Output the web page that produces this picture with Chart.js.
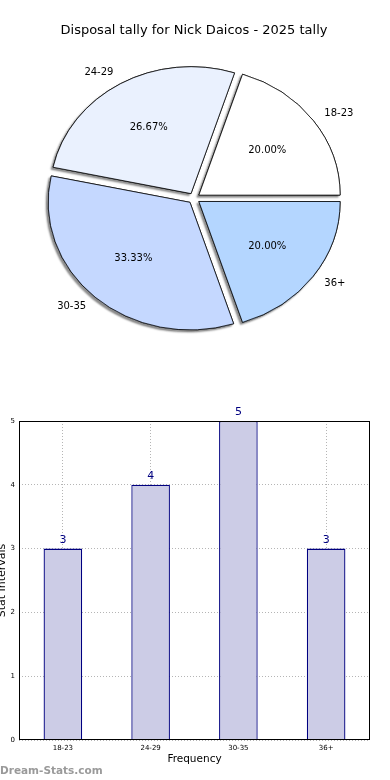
<!DOCTYPE html>
<html>
<head>
<meta charset="utf-8">
<script src="https://cdn.jsdelivr.net/npm/chart.js@4.4.1/dist/chart.umd.min.js"></script>
<style>
  html, body { margin: 0; padding: 0; background: #fff; }
  body { width: 390px; height: 780px; position: relative; overflow: hidden; font-family: 'DejaVu Sans', sans-serif; }
  #pieChart { position: absolute; left: 0; top: 0; }
  #barChart { position: absolute; left: 0; top: 380px; }
  .watermark { position: absolute; left: 0; top: 764px; font: bold 10.5px 'DejaVu Sans', sans-serif; color: #9a9a9a; }
</style>
</head>
<body>
<canvas id="pieChart" width="390" height="380"></canvas>
<canvas id="barChart" width="390" height="400"></canvas>
<div class="watermark">Dream-Stats.com</div>
<script>
// data
const categories = ['18-23', '24-29', '30-35', '36+'];
const tallies = [3, 4, 5, 3];
const yTicks = [0, 1, 2, 3, 4, 5];

const sliceColors = ['#ffffff', '#eaf1fe', '#c5d8ff', '#b4d6ff'];
const explode = 6;      // px
const ySquash = 0.9;    // the pie is drawn slightly flattened

const total = tallies.reduce((a, b) => a + b, 0);

// Chart.js runs clockwise, the original runs counter-clockwise from 3 o'clock
const pieLabels = categories.slice().reverse();
const pieValues = tallies.slice().reverse();
const pieColors = sliceColors.slice().reverse();

const pieDecor = {
    id: 'pieDecor',
    beforeDatasetsDraw(chart) {
        const ctx = chart.ctx;
        const arcs = chart.getDatasetMeta(0).data;
        const cx = arcs[0].x, cy = arcs[0].y;
        ctx.save();
        ctx.translate(cx, cy);
        ctx.scale(1, ySquash);
        ctx.translate(-cx, -cy);
        // shadow pass
        ctx.save();
        ctx.shadowColor = 'rgba(0,0,0,0.45)';
        ctx.shadowOffsetX = -2;
        ctx.shadowOffsetY = 2;
        ctx.shadowBlur = 2;
        arcs.forEach(a => a.draw(ctx));
        ctx.restore();
    },
    afterDatasetsDraw(chart) {
        const ctx = chart.ctx;
        ctx.restore();
        const arcs = chart.getDatasetMeta(0).data;
        ctx.save();
        ctx.fillStyle = '#000';
        ctx.font = "10px 'DejaVu Sans'";
        ctx.textBaseline = 'middle';
        arcs.forEach((a, i) => {
            const mid = (a.startAngle + a.endAngle) / 2;
            const r = a.outerRadius;
            const cos = Math.cos(mid), sin = Math.sin(mid);
            const px = (d) => a.x + (d + explode) * cos;
            const py = (d) => a.y + (d + explode) * sin * ySquash;
            ctx.textAlign = 'center';
            ctx.fillText((pieValues[i] / total * 100).toFixed(2) + '%', px(0.6 * r), py(0.6 * r));
            ctx.textAlign = cos > 0 ? 'left' : 'right';
            ctx.fillText(pieLabels[i], px(1.1 * r), py(1.1 * r));
        });
        ctx.restore();
    }
};

new Chart(document.getElementById('pieChart'), {
    type: 'pie',
    data: {
        labels: pieLabels,
        datasets: [{
            data: pieValues,
            backgroundColor: pieColors,
            borderColor: '#000',
            borderWidth: 0.8,
            offset: explode * 4
        }]
    },
    options: {
        responsive: false,
        animation: false,
        rotation: 90,
        radius: 141,
        layout: { padding: { left: 0, right: 2, top: 0, bottom: 31 } },
        plugins: {
            legend: { display: false },
            tooltip: { enabled: false },
            title: {
                display: true,
                text: 'Disposal tally for Nick Daicos - 2025 tally',
                color: '#000',
                font: { family: 'DejaVu Sans', size: 13, weight: 'normal' },
                padding: { top: 23, bottom: 9 }
            }
        }
    },
    plugins: [pieDecor]
});

const barDecor = {
    id: 'barDecor',
    afterDatasetsDraw(chart) {
        const ctx = chart.ctx;
        const bars = chart.getDatasetMeta(0).data;
        ctx.save();
        ctx.fillStyle = '#000080';
        ctx.font = "11px 'DejaVu Sans'";
        ctx.textAlign = 'center';
        ctx.textBaseline = 'bottom';
        bars.forEach((b, i) => ctx.fillText(String(tallies[i]), b.x, b.y - 3));
        ctx.restore();
    },
    afterDraw(chart) {
        const {ctx, chartArea: a} = chart;
        ctx.save();
        ctx.strokeStyle = '#000';
        ctx.lineWidth = 1;
        ctx.strokeRect(a.left + 0.5, a.top + 0.5, a.right - a.left - 1, a.bottom - a.top - 1);
        ctx.restore();
    }
};

const gridStyle = {
    color: 'rgba(150,150,150,0.7)',
    lineWidth: 1,
    drawTicks: false
};

new Chart(document.getElementById('barChart'), {
    type: 'bar',
    data: {
        labels: categories,
        datasets: [{
            data: tallies,
            backgroundColor: '#ccccE6',
            borderColor: '#000080',
            borderWidth: 1.3,
            barPercentage: 0.44,
            categoryPercentage: 1
        }]
    },
    options: {
        responsive: false,
        animation: false,
        layout: { padding: { left: 0, right: 20, top: 41, bottom: 0 } },
        plugins: { legend: { display: false }, tooltip: { enabled: false } },
        scales: {
            x: {
                z: 1,
                grid: Object.assign({ offset: false }, gridStyle),
                border: { display: false, dash: [1, 2] },
                ticks: { color: '#000', font: { family: 'DejaVu Sans', size: 7 }, padding: 4 },
                title: {
                    display: true, text: 'Frequency', color: '#000',
                    font: { family: 'DejaVu Sans', size: 10.5 },
                    padding: { top: 0, bottom: 14 }
                },
                afterFit(scale) { scale.height = 40; }
            },
            y: {
                z: 1,
                min: yTicks[0],
                max: yTicks[yTicks.length - 1],
                grid: gridStyle,
                border: { display: false, dash: [1, 2] },
                ticks: {
                    stepSize: 1, color: '#000', padding: 4,
                    font: { family: 'DejaVu Sans', size: 7 }
                },
                title: {
                    display: true, text: 'Stat Intervals', color: '#000',
                    font: { family: 'DejaVu Sans', size: 11 },
                    padding: { top: -4, bottom: 0 }
                },
                afterFit(scale) { scale.width = 19; }
            }
        }
    },
    plugins: [barDecor]
});
</script>
</body>
</html>
